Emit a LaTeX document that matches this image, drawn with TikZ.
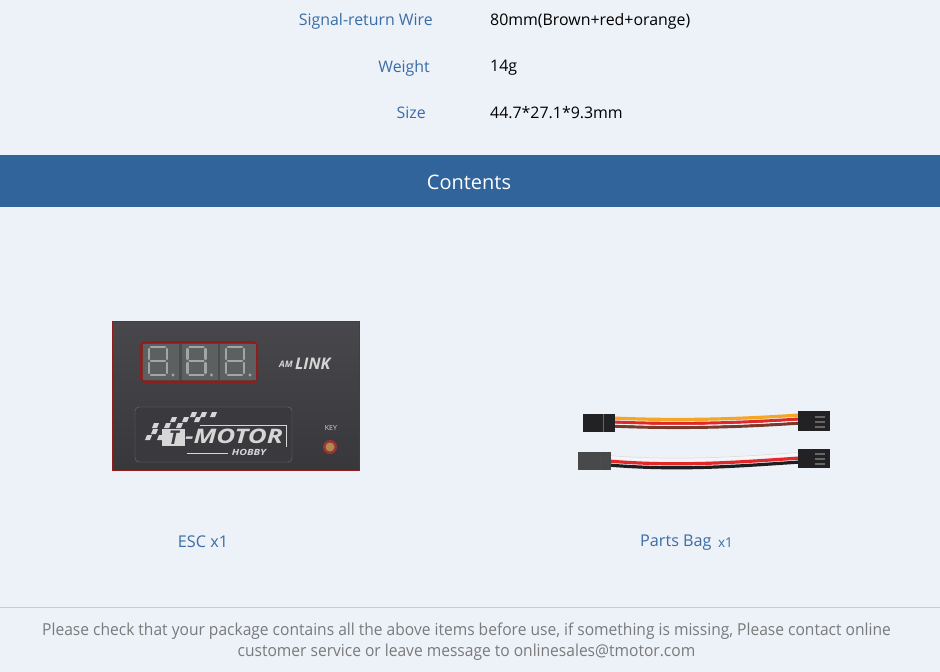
\documentclass[tikz,border=0pt]{standalone}
\usepackage{fontspec}
\usepackage{graphicx}
\setmainfont{Open Sans}
\usetikzlibrary{positioning}

\definecolor{pagebg}{HTML}{EDF1F8}
\definecolor{headblue}{HTML}{30649A}
\definecolor{lblblue}{HTML}{3A6DA6}
\definecolor{footgrey}{HTML}{7A7A7A}
\definecolor{rulegrey}{HTML}{C8CBD0}
\definecolor{escred}{HTML}{8E1E1E}
\definecolor{esctop}{HTML}{48484C}
\definecolor{escbot}{HTML}{38383C}
\definecolor{cellgrey}{HTML}{5C6060}
\definecolor{seggrey}{HTML}{A2A6A6}
\definecolor{logogrey}{HTML}{D6D6D6}
\definecolor{panelgrey}{HTML}{3A3A3E}
\definecolor{btngold}{HTML}{B08A4A}
\definecolor{wireorange}{HTML}{F5A623}
\definecolor{wirered}{HTML}{E2282A}
\definecolor{wirebrown}{HTML}{7A3A2A}
\definecolor{wirewhite}{HTML}{F6F4F4}
\definecolor{wireblack}{HTML}{1E1E1E}
\definecolor{connblack}{HTML}{222224}
\definecolor{conngrey}{HTML}{47494A}

\begin{document}
\begin{tikzpicture}[x=1pt,y=-1pt,
  speclbl/.style={text=lblblue,font=\fontsize{15.9}{19}\selectfont,anchor=east,inner sep=0pt},
  specval/.style={text=black,font=\fontsize{15.9}{19}\selectfont,anchor=west,inner sep=0pt},
  itemlbl/.style={text=lblblue,font=\fontsize{16.2}{19}\selectfont,inner sep=0pt},
  seg/.style={line width=2.4pt,seggrey,line cap=round},
  wire/.style={line width=3.2pt,line cap=butt}]
\fill[pagebg] (0,0) rectangle (940,672);
\useasboundingbox (0,0) rectangle (940,672);

% specification rows
\node[speclbl] (wirelbl) at (433,21) {Signal-return Wire};
\node[specval] (wireval) at (490,21) {80mm(Brown+red+orange)};
\node[speclbl] (weightlbl) at (430,68) {Weight};
\node[specval] (weightval) at (490,68) {14g};
\node[speclbl] (sizelbl) at (426,113) {Size};
\node[specval] (sizeval) at (490,113) {44.7*27.1*9.3mm};

% header bar
\fill[headblue] (0,155) rectangle (940,207);
\node[text=white,font=\fontsize{20}{24}\selectfont] (contents) at (469,182) {Contents};

% ESC body
\fill[escred] (112,321) rectangle (360,471);
\shade[top color=esctop,bottom color=escbot] (113.5,322) rectangle (359,469);

% display
\fill[escred,rounded corners=5pt] (140,341) rectangle (258,383);
\fill[black!70,rounded corners=3pt] (142.5,343.5) rectangle (255.5,380.5);
\foreach \i in {0,1,2}{
  \fill[cellgrey] (143+38.5*\i,344) rectangle (179+38.5*\i,380);
  \draw[seg] (151+38.5*\i,347) -- (165+38.5*\i,347);
  \draw[seg] (167+38.5*\i,349) -- (167+38.5*\i,359);
  \draw[seg] (167+38.5*\i,363) -- (167+38.5*\i,373);
  \draw[seg] (151+38.5*\i,375) -- (165+38.5*\i,375);
  \draw[seg] (149+38.5*\i,363) -- (149+38.5*\i,373);
  \draw[seg] (149+38.5*\i,349) -- (149+38.5*\i,359);
  \draw[seg] (151+38.5*\i,361) -- (165+38.5*\i,361);
  \fill[seggrey] (173+38.5*\i,375) circle (1.6);
}
\node[text=logogrey,font=\bfseries\itshape\fontsize{9}{9}\selectfont,inner sep=0pt] (am) at (286,364) {AM};
\node[text=logogrey,font=\bfseries\itshape\fontsize{16}{16}\selectfont,inner sep=0pt,right=2pt of am.east,anchor=west] (link) {LINK};

% T-MOTOR panel
\draw[black!55,fill=panelgrey,rounded corners=4pt] (135,407) rectangle (292,462);
\foreach \x/\y in {145/440,157/440,151/434,152/428,164/428,176/428,170/422,182/422,194/422,190/417,200/417,210/417}
  \fill[logogrey] (\x,\y) -- ++(5,0) -- ++(2,-5) -- ++(-5,0) -- cycle;
\fill[logogrey] (162,429) rectangle (185,446);
\node[text=panelgrey,font=\bfseries\itshape\fontsize{19}{19}\selectfont,inner sep=0pt,text depth=0pt] (tlogo) at (174,437.5) {T};
\node[text=logogrey,font=\bfseries\itshape\fontsize{20}{20}\selectfont,inner sep=0pt,text height=14pt,text depth=0pt,anchor=south west] (motor) at (185,443.5) {\scalebox{1.3}[1]{-MOTOR}};
\draw[logogrey,line width=0.6pt] (200,425) -- (286,425) -- (286,447);
\draw[logogrey,line width=0.6pt] (187,453) -- (228,453);
\node[text=logogrey,font=\bfseries\itshape\fontsize{8.5}{9}\selectfont,inner sep=0pt,text depth=0pt,anchor=north] (hobby) at (249,449.5) {\scalebox{1.25}[1]{HOBBY}};

% key button
\node[text=logogrey,font=\fontsize{7}{7}\selectfont,inner sep=0pt] (key) at (331,428) {KEY};
\fill[escred!90] (330,447) circle (7);
\fill[btngold] (330,447) circle (4.5);

% parts bag: upper cable
\foreach \c/\o in {wireorange/-4,wirered/0,wirebrown/4}
  \draw[wire,\c] (612,422+\o) .. controls (680,425+\o) and (740,423+\o) .. (800,419+\o);
\draw[line width=0.9pt,wirewhite] (612,424) .. controls (680,427) and (740,425) .. (800,421);
\fill[connblack] (583,414) rectangle (615,432);
\draw[black!60,line width=0.6pt] (603,414) -- (603,432);
\fill[connblack] (798,411) rectangle (830,431);
\foreach \p in {416,421,426}
  \fill[black!60] (815,\p) rectangle (825,\p+1.5);

% parts bag: lower cable
\foreach \c/\o in {wirewhite/-4,wirered/0,wireblack/4}
  \draw[wire,\c] (608,461+\o) .. controls (680,467+\o) and (740,462+\o) .. (800,458+\o);
\draw[black!15,line width=0.5pt] (608,455.4) .. controls (680,461.4) and (740,456.4) .. (800,452.4);
\fill[conngrey] (578,452) rectangle (611,470);
\draw[black!70,line width=0.6pt] (600,452) -- (600,470);
\fill[connblack] (798,449) rectangle (830,468);
\foreach \p in {453,458,463}
  \fill[black!60] (815,\p) rectangle (825,\p+1.5);

% item captions
\node[itemlbl] (esclbl) at (203,542) {ESC x1};
\node[itemlbl,anchor=west] (baglbl) at (640,543) {Parts Bag};
\node[itemlbl,font=\fontsize{13.5}{15}\selectfont,right=6pt of baglbl.east,anchor=west] (bagqty) {x1};

% footer
\draw[rulegrey,line width=1pt] (0,607) -- (940,607);
\node[text=footgrey,font=\fontsize{16.5}{21}\selectfont,align=center,inner sep=0pt] (foot) at (466.5,642)
  {\scalebox{0.944}[1]{Please check that your package contains all the above items before use, if something is missing, Please contact online}\\
   \scalebox{0.944}[1]{customer service or leave message to onlinesales@tmotor.com}};
\end{tikzpicture}
\end{document}
